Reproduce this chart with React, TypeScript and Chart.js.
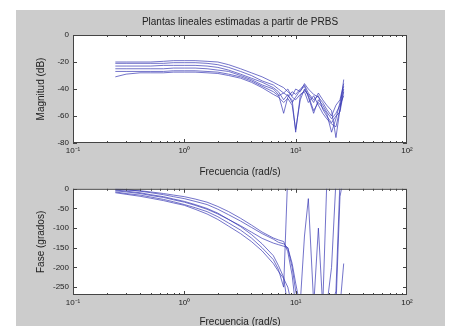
import React, { useEffect, useRef } from "react";
import { Chart, registerables } from "chart.js";

Chart.register(...registerables);

// ---------- data ----------
const titleText = "Plantas lineales estimadas a partir de PRBS";
const xLabel = "Frecuencia (rad/s)";
const magLabel = "Magnitud (dB)";
const phaseLabel = "Fase (grados)";

const freqs = [0.24, 0.3, 0.4, 0.5, 0.65, 0.8, 1, 1.25, 1.6, 2, 2.5, 3.2, 4, 5, 6.3, 7, 7.8, 8.5, 9.3, 10, 11, 12, 13, 14.5, 16, 17.5, 19, 21, 23, 25, 27];

const mag1 = [-20, -20, -20, -20, -19.5, -19, -19, -19, -19.5, -20, -22, -25, -28, -31, -35, -37, -39, -42, -45, -40, -42, -36, -40, -44, -46, -50, -55, -60, -52, -48, -36];
const mag2 = [-21, -21, -21, -21, -21, -20.5, -20.5, -20.5, -21, -22, -24, -27, -30, -34, -37, -40, -43, -45, -48, -72, -45, -41, -44, -50, -43, -48, -52, -56, -76, -55, -33];
const mag3 = [-23, -23, -23, -23, -22.5, -22.5, -22.5, -22.5, -23, -24, -26, -29, -32, -35, -39, -42, -48, -44, -50, -46, -41, -38, -46, -58, -48, -52, -57, -62, -58, -52, -45];
const mag4 = [-25, -25, -25, -25, -25, -24.5, -24.5, -24.5, -25, -26, -27, -30, -33, -37, -40, -44, -58, -46, -42, -44, -40, -37, -43, -48, -45, -55, -60, -65, -60, -57, -42];
const mag5 = [-27, -27, -27, -27, -27, -26.5, -26.5, -26.5, -27, -27.5, -29, -31, -34, -38, -42, -45, -43, -40, -46, -48, -44, -42, -50, -45, -52, -58, -62, -66, -68, -55, -40];
const mag6 = [-31, -29, -28, -28, -28, -27.5, -27.5, -27.5, -28, -28.5, -30, -32, -35, -39, -44, -46, -50, -47, -52, -70, -48, -40, -45, -56, -50, -54, -58, -72, -62, -50, -38];

const phase1 = [-2, -3, -5, -8, -12, -16, -20, -26, -34, -45, -58, -75, -92, -110, -125, -130, -134, -160, -220, -300, -290, -120, -25, -290, -300, -300, -300, -200, 20, 40, 40];
const phase2 = [0, -2, -6, -10, -15, -20, -25, -32, -40, -52, -66, -82, -98, -114, -128, -136, -140, -150, -200, -260, -300, -300, -280, -300, -100, -300, -290, -300, -260, 20, 30];
const phase3 = [-5, -8, -12, -17, -22, -28, -34, -42, -52, -64, -78, -94, -110, -126, -138, -142, -146, -150, -190, -240, -300, -300, -300, -300, -300, -300, 10, 30, 30, 30, 30];
const phase4 = [-10, -14, -19, -24, -30, -36, -42, -52, -64, -78, -95, -114, -134, -158, -190, -210, -228, -250, -300, -300, -270, -300, -300, -300, -300, -300, -300, -300, -300, -20, 30];
const phase5 = [-3, -6, -10, -15, -20, -26, -32, -40, -50, -62, -78, -96, -116, -140, -170, -195, -225, -300, -310, -300, -300, -300, -300, -300, -300, -300, -300, -280, -300, -300, -190];
const phase6 = [-8, -12, -16, -21, -27, -33, -40, -48, -58, -71, -87, -105, -125, -150, -180, -205, -250, 40, 60, 40, 30, 20, 20, 20, 20, 20, 20, 20, 20, 20, 20];

const magnitudeSeries = [mag1, mag2, mag3, mag4, mag5, mag6];
const phaseSeries = [phase1, phase2, phase3, phase4, phase5, phase6];

const xTickValues = [0.1, 1, 10, 100];
const xTickLabels = ["10\u207B\u00B9", "10\u2070", "10\u00B9", "10\u00B2"];
const magTicks = [0, -20, -40, -60, -80];
const phaseTicks = [0, -50, -100, -150, -200, -250];

// ---------- styling ----------
const FONT = "'Liberation Sans', Arial, Helvetica, sans-serif";
const TEXT = "#222";
const LINE = "rgba(55,55,180,0.7)";
const AXIS = "#444";

Chart.defaults.font.family = FONT;

const boxPlugin = {
  id: "matlabBox",
  beforeDraw(chart: any) {
    const { ctx, chartArea: a } = chart;
    ctx.save();
    ctx.fillStyle = "#ffffff";
    ctx.fillRect(a.left, a.top, a.right - a.left, a.bottom - a.top);
    ctx.restore();
  },
  afterDraw(chart: any) {
    const { ctx, chartArea: a, scales } = chart;
    const xs = scales.x;
    const ys = scales.y;
    ctx.save();
    ctx.strokeStyle = AXIS;
    ctx.lineWidth = 1;
    ctx.strokeRect(a.left + 0.5, a.top + 0.5, a.right - a.left - 1, a.bottom - a.top - 1);
    const seg = (x1: number, y1: number, x2: number, y2: number) => {
      ctx.beginPath();
      ctx.moveTo(x1, y1);
      ctx.lineTo(x2, y2);
      ctx.stroke();
    };
    ys.ticks.forEach((t: any) => {
      const py = Math.round(ys.getPixelForValue(t.value)) + 0.5;
      seg(a.left, py, a.left + 4, py);
      seg(a.right - 4, py, a.right, py);
    });
    [0.1, 1, 10].forEach((d) => {
      for (let m = 1; m <= 9; m++) {
        const px = Math.round(xs.getPixelForValue(d * m)) + 0.5;
        const len = m === 1 ? 4 : 2;
        seg(px, a.bottom, px, a.bottom - len);
        seg(px, a.top, px, a.top + len);
      }
    });
    ctx.restore();
  },
};

function makeConfig(series: number[][], yTicks: number[], yMin: number, yMax: number, yLabel: string, opts: any) {
  return {
    type: "line",
    data: {
      datasets: series.map((s, k) => ({
        label: "planta " + (k + 1),
        data: freqs.map((f, i) => ({ x: f, y: s[i] })),
        borderColor: LINE,
        borderWidth: 1,
        pointRadius: 0,
        tension: 0,
        fill: false,
      })),
    },
    options: {
      animation: false,
      responsive: false,
      devicePixelRatio: 1,
      layout: { padding: opts.padding },
      plugins: {
        legend: { display: false },
        tooltip: { enabled: false },
        title: opts.title,
      },
      scales: {
        x: {
          type: "logarithmic",
          min: 0.1,
          max: 100,
          afterBuildTicks: (s: any) => {
            s.ticks = xTickValues.map((v) => ({ value: v }));
          },
          afterFit: (s: any) => {
            s.height = opts.xHeight;
          },
          grid: { display: false, drawTicks: false },
          border: { display: false },
          ticks: {
            autoSkip: false,
            maxRotation: 0,
            padding: 3,
            color: TEXT,
            font: { size: 8 },
            callback: (_v: any, i: number) => xTickLabels[i],
          },
          title: {
            display: true,
            text: xLabel,
            color: TEXT,
            font: { size: 10 },
            padding: { top: 0, bottom: opts.xTitlePad },
          },
        },
        y: {
          type: "linear",
          min: yMin,
          max: yMax,
          afterBuildTicks: (s: any) => {
            s.ticks = yTicks.map((v) => ({ value: v }));
          },
          afterFit: (s: any) => {
            s.width = 43;
          },
          grid: { display: false, drawTicks: false },
          border: { display: false },
          ticks: {
            padding: 4,
            color: TEXT,
            font: { size: 8 },
            callback: (v: any) => String(v),
          },
          title: {
            display: true,
            text: yLabel,
            color: TEXT,
            font: { size: 10 },
            padding: { top: 5, bottom: 0 },
          },
        },
      },
    },
    plugins: [boxPlugin],
  };
}

export default function App() {
  const topRef = useRef<HTMLCanvasElement | null>(null);
  const botRef = useRef<HTMLCanvasElement | null>(null);

  useEffect(() => {
    const top = new Chart(
      topRef.current as HTMLCanvasElement,
      makeConfig(magnitudeSeries, magTicks, -80, 0, magLabel, {
        padding: { left: 30, right: 43, top: 0, bottom: 0 },
        xHeight: 37,
        xTitlePad: 2,
        title: {
          display: true,
          fullSize: false,
          text: titleText,
          color: TEXT,
          font: { size: 10, weight: "normal" },
          padding: { top: 16, bottom: 7 },
        },
      }) as any
    );
    const bot = new Chart(
      botRef.current as HTMLCanvasElement,
      makeConfig(phaseSeries, phaseTicks, -270, 0, phaseLabel, {
        padding: { left: 30, right: 43, top: 5, bottom: 0 },
        xHeight: 31,
        xTitlePad: -2,
        title: { display: false },
      }) as any
    );
    return () => {
      top.destroy();
      bot.destroy();
    };
  }, []);

  return (
    <div style={{ position: "absolute", left: 0, top: 0, width: 450, height: 326, overflow: "hidden", background: "#ffffff" }}>
      <div style={{ position: "absolute", left: 16, top: 10, width: 429, height: 316, background: "#cccccc" }} />
      <canvas ref={topRef} width={450} height={180} style={{ position: "absolute", left: 0, top: 0, width: 450, height: 180 }} />
      <canvas ref={botRef} width={450} height={146} style={{ position: "absolute", left: 0, top: 180, width: 450, height: 146 }} />
    </div>
  );
}
